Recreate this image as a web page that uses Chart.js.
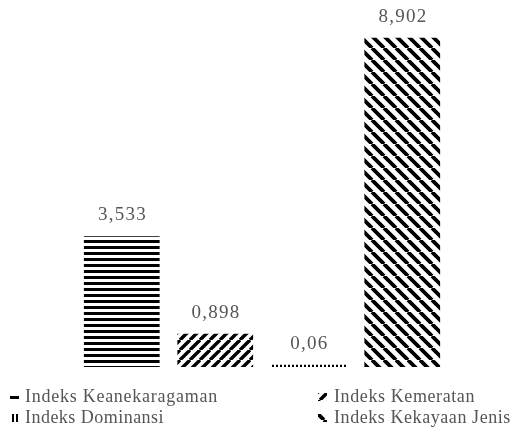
<!DOCTYPE html>
<html>
<head>
<meta charset="utf-8">
<script src="https://cdn.jsdelivr.net/npm/chart.js@4"></script>
<style>
html,body{margin:0;padding:0;background:#fff;}
#wrap{width:512px;height:437px;position:relative;}
</style>
</head>
<body>
<div id="wrap"><canvas id="c" width="512" height="437"></canvas></div>
<script>
const categories = ["Indeks Keanekaragaman", "Indeks Kemeratan", "Indeks Dominansi", "Indeks Kekayaan Jenis"];
const values = [3.533, 0.898, 0.06, 8.902];
const valueLabels = ["3,533", "0,898", "0,06", "8,902"];
const legendOrder = [0, 1, 2, 3];

function makePattern(kind) {
  const c = document.createElement('canvas');
  const ctx = c.getContext('2d');
  if (kind === 'h') {
    c.width = 6; c.height = 6;
    ctx.fillStyle = '#fff'; ctx.fillRect(0,0,6,6);
    ctx.fillStyle = '#000'; ctx.fillRect(0,0,6,3);
  } else if (kind === 'v') {
    c.width = 4; c.height = 4;
    ctx.fillStyle = '#fff'; ctx.fillRect(0,0,4,4);
    ctx.fillStyle = '#000'; ctx.fillRect(0,0,2,4);
  } else {
    const s = kind === 'up' ? 10 : 12;
    c.width = s; c.height = s;
    ctx.fillStyle = '#fff'; ctx.fillRect(0,0,s,s);
    ctx.strokeStyle = '#000'; ctx.lineWidth = kind === 'up' ? 3.4 : 3.8;
    ctx.beginPath();
    if (kind === 'up') {
      for (let k=-1;k<=1;k++){ ctx.moveTo(k*s, s); ctx.lineTo(k*s + s, 0); }
    } else {
      for (let k=-1;k<=1;k++){ ctx.moveTo(k*s, 0); ctx.lineTo(k*s + s, s); }
    }
    ctx.stroke();
  }
  return document.getElementById('c').getContext('2d').createPattern(c, 'repeat');
}
const patterns = [makePattern('h'), makePattern('up'), makePattern('v'), makePattern('down')];

const FONT = '"Liberation Serif", "Times New Roman", serif';

function drawSpaced(ctx, text, x, y, target, align) {
  ctx.letterSpacing = '0px';
  const nat = ctx.measureText(text).width;
  let sp = target ? (target - nat) / (text.length) : 0;
  ctx.letterSpacing = sp.toFixed(2) + 'px';
  const w = ctx.measureText(text).width;
  let sx = x;
  if (align === 'center') sx = x - w/2 + sp/2;
  ctx.textAlign = 'left';
  ctx.fillText(text, sx, y);
  ctx.letterSpacing = '0px';
}

const labelPlugin = {
  id: 'vals',
  afterDatasetsDraw(chart) {
    const ctx = chart.ctx;
    const meta = chart.getDatasetMeta(0);
    ctx.save();
    ctx.fillStyle = '#555555';
    ctx.font = '19px ' + FONT;
    ctx.textBaseline = 'middle';
    meta.data.forEach((bar, i) => {
      const t = valueLabels[i];
      const target = t.length === 5 ? 49 : 38;
      drawSpaced(ctx, t, bar.x, bar.y - 21, target, 'center');
    });
    ctx.restore();
  }
};

const legendPlugin = {
  id: 'customLegend',
  afterDraw(chart) {
    const ctx = chart.ctx;
    ctx.save();
    const pos = [
      {ix: 10, tx: 25, y: 397, w: 193},
      {ix: 318, tx: 334, y: 397, w: 141},
      {ix: 10, tx: 25, y: 418, w: 139},
      {ix: 318, tx: 334, y: 418, w: 177}
    ];
    ctx.font = '18px ' + FONT;
    ctx.textBaseline = 'middle';
    legendOrder.forEach((idx, k) => {
      const p = pos[k];
      ctx.fillStyle = patterns[idx];
      ctx.fillRect(p.ix, p.y - 4, 9, 8);
      ctx.fillStyle = '#555555';
      drawSpaced(ctx, categories[idx], p.tx, p.y, p.w, 'left');
    });
    ctx.restore();
  }
};

new Chart(document.getElementById('c'), {
  type: 'bar',
  data: {
    labels: categories,
    datasets: [{
      data: values,
      backgroundColor: patterns,
      borderWidth: 0,
      barPercentage: 0.81,
      categoryPercentage: 1.0
    }]
  },
  options: {
    responsive: false,
    animation: false,
    devicePixelRatio: 1,
    layout: { padding: { top: 34, bottom: 70, left: 75, right: 63 } },
    plugins: { legend: { display: false }, tooltip: { enabled: false } },
    scales: {
      x: { display: false },
      y: { display: false, min: 0, max: 9 }
    }
  },
  plugins: [labelPlugin, legendPlugin]
});
</script>
</body>
</html>
